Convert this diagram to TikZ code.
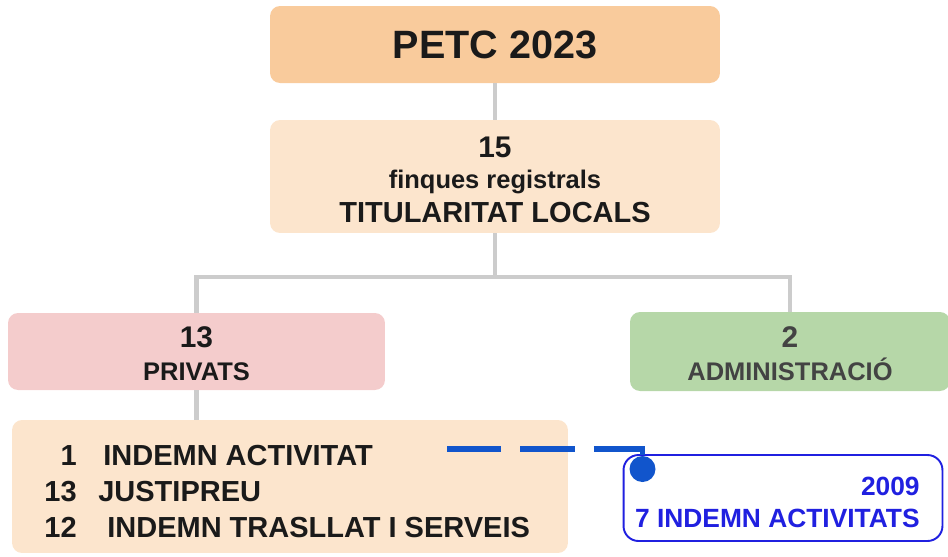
\documentclass[tikz,border=0pt]{standalone}
\usepackage{fontspec}
\setmainfont{Liberation Sans}
\usetikzlibrary{positioning}
\definecolor{petcorange}{HTML}{F9CB9C}
\definecolor{petclight}{HTML}{FCE5CD}
\definecolor{petcred}{HTML}{F4CCCC}
\definecolor{petcgreen}{HTML}{B6D7A8}
\definecolor{petcgray}{HTML}{CCCCCC}
\definecolor{petcblue}{HTML}{1155CC}
\definecolor{petcnavy}{HTML}{2020E0}
\definecolor{petcink}{HTML}{1A1A1A}
\definecolor{petcdark}{HTML}{434343}

\begin{document}
\begin{tikzpicture}[x=0.02cm, y=-0.02cm,
    card/.style={rectangle, rounded corners=0.2cm, inner sep=0pt},
    headbox/.style={card, fill=petcorange, minimum width=9cm, minimum height=1.54cm,
                    font=\fontsize{22.5}{27}\selectfont\bfseries, text=petcink},
    sumbox/.style={card, fill=petclight, minimum width=9cm, minimum height=2.26cm},
    privbox/.style={card, fill=petcred, minimum width=7.54cm, minimum height=1.54cm},
    adminbox/.style={card, fill=petcgreen, minimum width=6.4cm, minimum height=1.58cm},
    listbox/.style={card, fill=petclight, minimum width=11.12cm, minimum height=2.66cm},
    notebox/.style={card, rounded corners=0.3cm, draw=petcnavy, line width=1.1pt,
                    minimum width=6.38cm, minimum height=1.72cm},
    numtxt/.style={font=\fontsize{17}{20}\selectfont\bfseries, text=petcink, inner sep=0pt},
    cattxt/.style={font=\fontsize{14.5}{17}\selectfont\bfseries, text=petcink, inner sep=0pt},
    itemtxt/.style={font=\fontsize{16.5}{20}\selectfont\bfseries, text=petcink, inner sep=0pt},
    notetxt/.style={font=\fontsize{15}{18}\selectfont\bfseries, text=petcnavy, inner sep=0pt},
    conn/.style={draw=petcgray, line width=2.8pt},
    dashlink/.style={draw=petcblue, line width=3.2pt, dash pattern=on 31pt off 10.8pt},
    dot/.style={circle, fill=petcblue, inner sep=0pt, minimum size=0.52cm}
  ]
    \useasboundingbox (0,0) rectangle (948,556);

    % --- Top: PETC 2023 ---
    \node[headbox] (petc) at (495,44.5) {PETC 2023};

    % --- Total of registered properties ---
    \node[sumbox] (total) at (495,176.5) {};
    \node[numtxt, anchor=base] (totalnum) at (495,157) {15};
    \node[cattxt, anchor=base] (totalsub) at (495,188) {finques registrals};
    \node[cattxt, anchor=base, font=\fontsize{16.5}{19}\selectfont\bfseries] (totaltit) at (495,222) {TITULARITAT LOCALS};

    % --- Owners split ---
    \node[privbox] (priv) at (196.5,351.5) {};
    \node[numtxt, anchor=base] (privnum) at (196.5,347) {13};
    \node[cattxt, anchor=base] (privtxt) at (196.5,380) {PRIVATS};

    \node[adminbox] (admin) at (790,351.5) {};
    \node[numtxt, anchor=base, text=petcdark] (adminnum) at (790,347) {2};
    \node[cattxt, anchor=base, text=petcdark] (admintxt) at (790,380) {ADMINISTRACIÓ};

    % --- Compensation list ---
    \node[listbox] (list) at (290,486.5) {};
    \node[itemtxt, anchor=base east] (n1) at (77,465) {1};
    \node[itemtxt, anchor=base west] (t1) at (103,465) {INDEMN ACTIVITAT};
    \node[itemtxt, anchor=base east] (n2) at (77,501) {13};
    \node[itemtxt, anchor=base west] (t2) at (98,501) {JUSTIPREU};
    \node[itemtxt, anchor=base east] (n3) at (77,537) {12};
    \node[itemtxt, anchor=base west] (t3) at (107,537) {INDEMN TRASLLAT I SERVEIS};

    % --- 2009 note ---
    \node[notebox] (note) at (783,498) {};
    \node[notetxt, anchor=base east] (noteyear) at (920,495) {2009};
    \node[notetxt, anchor=base east] (notetxt) at (920,527) {7 INDEMN ACTIVITATS};

    % Connectors
    \coordinate (fork) at (495,277);
    \draw[conn] (petc) -- (total);
    \draw[conn] (total) -- (fork);
    \draw[conn] (fork) -| (priv);
    \draw[conn] (fork) -| (admin);
    \draw[conn] (priv.south) -- (priv.south |- list.north);

    % Dashed link to the note
    \coordinate (dashstart) at (447,449);
    \node[dot] (notedot) at (642.5,469) {};
    \draw[dashlink] (dashstart) -| (notedot);
\end{tikzpicture}
\end{document}
